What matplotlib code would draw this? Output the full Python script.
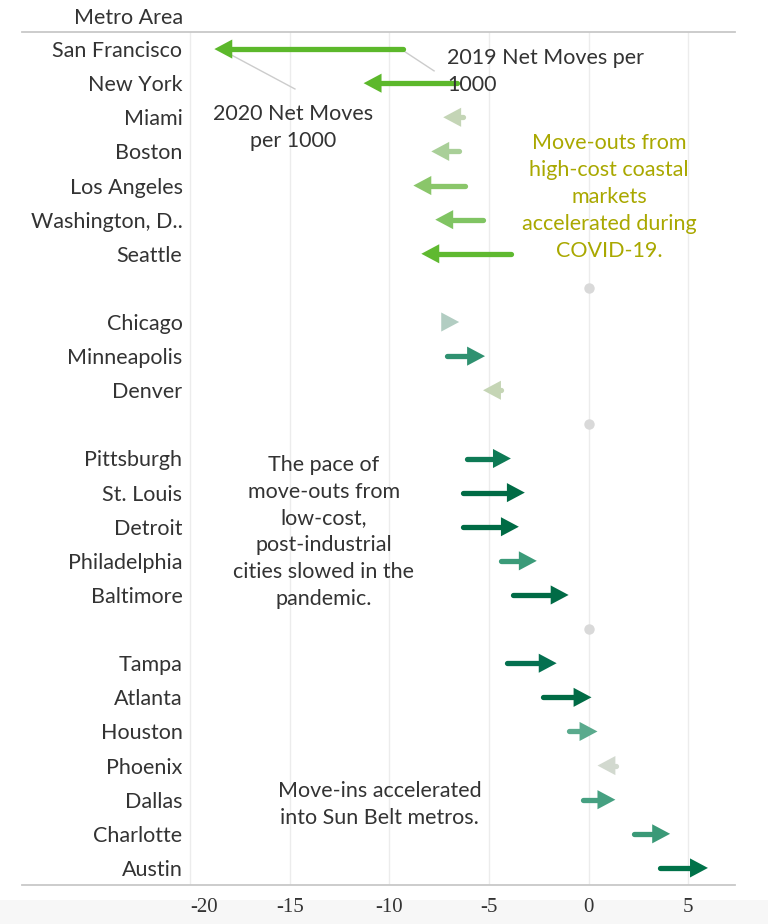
import matplotlib
matplotlib.use("Agg")
import matplotlib.pyplot as plt
from matplotlib.patches import Rectangle

# rows in display order; '' rows are spacers shown as a grey dot at zero
metros = ["San Francisco", "New York", "Miami", "Boston", "Los Angeles",
          "Washington, D..", "Seattle", "",
          "Chicago", "Minneapolis", "Denver", "",
          "Pittsburgh", "St. Louis", "Detroit", "Philadelphia", "Baltimore", "",
          "Tampa", "Atlanta", "Houston", "Phoenix", "Dallas", "Charlotte", "Austin"]
moves_2019 = [-9.3, -6.6, -6.3, -6.5, -6.2, -5.3, -3.9, 0.0,
              -7.2, -7.1, -4.4, 0.0,
              -6.1, -6.3, -6.3, -4.4, -3.8, 0.0,
              -4.1, -2.3, -1.0, 1.4, -0.3, 2.3, 3.6]
moves_2020 = [-18.8, -11.3, -7.3, -7.9, -8.8, -7.7, -8.4, 0.0,
              -6.5, -5.2, -5.3, 0.0,
              -3.9, -3.2, -3.5, -2.6, -1.0, 0.0,
              -1.6, 0.15, 0.45, 0.45, 1.35, 4.1, 6.0]
colors = ["#5cb82b", "#5cb82b", "#c4d5b6", "#a9cf98", "#8ac66a", "#80c463", "#5fb930", "#d9d9d9",
          "#b2cdc2", "#2f9170", "#c5d5b5", "#d9d9d9",
          "#0e7a55", "#006b45", "#006b45", "#3b9b79", "#016b46", "#d9d9d9",
          "#047050", "#006b45", "#5aaa8d", "#d2d9cf", "#46a081", "#3a9977", "#007249"]
xticks = [-20, -15, -10, -5, 0, 5]

FONT = "Lato"
TXT = "#333333"
FS = 15.5
LS = 1.43

fig = plt.figure(figsize=(7.68, 9.24), dpi=100)
fig.patches.append(Rectangle((0, 0), 1, 24 / 924, transform=fig.transFigure,
                             fc="#f7f7f7", ec="none", zorder=-1))
ax = fig.add_axes([182.5 / 768, 39 / 924, 552.3 / 768, 853 / 924])
ax.set_xlim(-20.4, 7.35)
ax.set_ylim(len(metros) - 0.5, -0.5)
for s in ax.spines.values():
    s.set_visible(False)

for v in xticks:
    ax.axvline(v, color="#ececec", lw=1.0, zorder=0)

# header / footer rules spanning into the label column
for yy in (0, 1):
    ax.plot([-0.2906, 1], [yy, yy], transform=ax.transAxes, color="#c8c8c8",
            lw=1.3, clip_on=False, zorder=1)

head_len = 0.9     # data units (~18 px)
head_half = 0.28   # rows (~9.5 px)
for i, (a, b, c) in enumerate(zip(moves_2019, moves_2020, colors)):
    if metros[i] == "":
        ax.plot([a], [i], "o", ms=7.5, color=c, mec="none", zorder=2)
        continue
    d = 1 if b > a else -1
    base = b - d * head_len
    end = b - d * head_len * 0.5
    if (end - a) * d > 0:
        ax.plot([a, end], [i, i], color=c, lw=3.8, solid_capstyle="round", zorder=3)
    ax.fill([b, base, base], [i, i - head_half, i + head_half], color=c, lw=0, zorder=4)

ax.set_yticks(range(len(metros)))
ax.set_yticklabels(metros, fontfamily=FONT, fontsize=FS, color=TXT)
ax.set_xticks(xticks)
ax.set_xticklabels([str(v) for v in xticks], fontfamily="Liberation Serif",
                   fontsize=15, color=TXT)
ax.get_xticklabels()[0].set_horizontalalignment("left")
ax.tick_params(axis="y", length=0, pad=0)
ax.tick_params(axis="x", length=0, pad=9)

fig.text(183 / 768, 1 - 18 / 924, "Metro Area", ha="right", va="center",
         fontfamily=FONT, fontsize=FS, color=TXT)

# leader lines and annotations
ax.plot([moves_2019[0], -7.76], [0.05, 0.64], color="#cccccc", lw=1.0, zorder=2)
ax.plot([moves_2020[0] + 0.3, -14.75], [0.0, 1.17], color="#cccccc", lw=1.0, zorder=2)
ax.text(-7.11, 0.66, "2019 Net Moves per\n1000", ha="left", va="center",
        fontfamily=FONT, fontsize=FS, color=TXT, linespacing=LS, zorder=5)
ax.text(-14.85, 2.3, "2020 Net Moves\nper 1000", ha="center", va="center",
        fontfamily=FONT, fontsize=FS, color=TXT, linespacing=LS, zorder=5)
ax.text(1.03, 4.34, "Move-outs from\nhigh-cost coastal\nmarkets\naccelerated during\nCOVID-19.",
        ha="center", va="center", fontfamily=FONT, fontsize=FS, color="#a9a800",
        linespacing=LS, zorder=5)
ax.text(-13.3, 14.15, "The pace of\nmove-outs from\nlow-cost,\npost-industrial\ncities slowed in the\npandemic.",
        ha="center", va="center", fontfamily=FONT, fontsize=FS, color=TXT,
        linespacing=LS, zorder=5)
ax.text(-10.5, 22.15, "Move-ins accelerated\ninto Sun Belt metros.", ha="center", va="center",
        fontfamily=FONT, fontsize=FS, color=TXT, linespacing=LS, zorder=5)

fig.savefig("out.png", dpi=100)
